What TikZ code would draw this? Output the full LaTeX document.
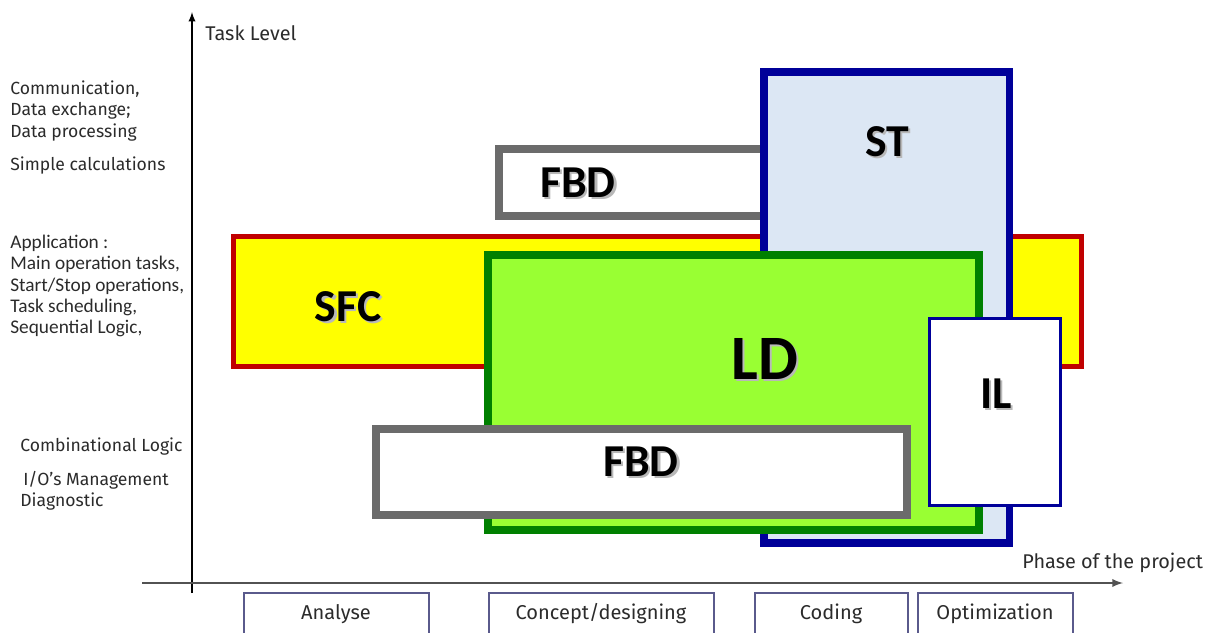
\documentclass[tikz,border=0pt]{standalone}
\usepackage{fontspec}
\usepackage{tikz}
\setmainfont{Fira Sans}
\newfontfamily\labelfont{Carlito}
\definecolor{sfcyellow}{HTML}{FFFF00}
\definecolor{sfcred}{HTML}{C00000}
\definecolor{ldgreen}{HTML}{99FF33}
\definecolor{lddark}{HTML}{008000}
\definecolor{stblue}{HTML}{DCE7F4}
\definecolor{stnavy}{HTML}{000099}
\definecolor{fbdgray}{HTML}{6B6B6B}
\definecolor{phaseline}{HTML}{5A5A8C}
\definecolor{txtgray}{HTML}{2B2B2B}
\newcommand*{\shd}[1]{\makebox[0pt][l]{\kern1.3pt\raisebox{-1.3pt}{\textcolor{black!28}{#1}}}#1}

\begin{document}
\begin{tikzpicture}[x=0.02cm, y=-0.02cm,
    sidetext/.style={anchor=west, align=left, text=txtgray, font=\fontsize{10}{12}\selectfont, inner sep=0pt},
    axistext/.style={sidetext, font=\fontsize{11.3}{13}\selectfont},
    biglabel/.style={font=\labelfont\bfseries\fontsize{26}{28}\selectfont},
    langbox/.style={draw=fbdgray, line width=4.5pt, fill=white},
    phasebox/.style={draw=phaseline, line width=0.75pt},
    phasetext/.style={text=txtgray, font=\fontsize{11.4}{13}\selectfont}]
\useasboundingbox (0,0) rectangle (1213,632);
\clip (0,0) rectangle (1213,632);

%Axes
\coordinate (yfoot) at (192,593);
\coordinate (ytop) at (192,12);
\coordinate (xfoot) at (142,583);
\coordinate (xend) at (1123,583);
\draw [black, line width=0.85pt, -latex] (yfoot) -- (ytop);
\draw [black!68, line width=1.1pt, -latex] (xfoot) -- (xend);
\node[axistext] (tasklevel) at (205,33) {Task Level};
\node[axistext] (phase) at (1022,563) {Phase of the project};

%Task levels on the left
\node[sidetext] (comm) at (10,111) {Communication,\\Data exchange;\\Data processing};
\node[sidetext] (calc) at (10,166) {Simple calculations};
\node[sidetext, font=\labelfont\fontsize{11}{12.1}\selectfont] (appl) at (10,286)
    {Application :\\Main operation tasks,\\Start/Stop operations,\\Task scheduling,\\Sequential Logic,};
\node[sidetext] (combi) at (20,447) {Combinational Logic};
\node[sidetext] (iodiag) at (20,491) {\,I/O's Management\\Diagnostic};

%Languages
\draw [draw=sfcred, fill=sfcyellow, line width=2.85pt] (233.5,236.5) rectangle (1081.5,366.5);
\node[biglabel] (sfc) at (348,308) {\shd{SFC}};

\draw [langbox] (499,149) rectangle (764,216);
\node[biglabel] (fbdtop) at (578,184) {\shd{FBD}};

\draw [draw=stnavy, fill=stblue, line width=4.5pt] (764,72) rectangle (1009.5,543);
\node[biglabel] (st) at (887,143) {\shd{ST}};

\draw [draw=lddark, fill=ldgreen, line width=4.5pt] (488,255) rectangle (979,530);
\node[biglabel, font=\labelfont\bfseries\fontsize{36}{38}\selectfont] (ld) at (765,360) {\shd{LD}};

\draw [langbox] (376,429) rectangle (907,515);
\node[biglabel] (fbdlow) at (641,463) {\shd{FBD}};

\draw [draw=stnavy, fill=white, line width=1.7pt] (929.5,318.5) rectangle (1060.5,505.5);
\node[biglabel] (il) at (996,395) {\shd{IL}};

%Phases
\draw [phasebox] (244,593) rectangle (429,645);
\draw [phasebox] (489,593) rectangle (714,645);
\draw [phasebox] (755,593) rectangle (908,645);
\draw [phasebox] (918,593) rectangle (1073,645);
\node[phasetext] (analyse) at (336,614) {Analyse};
\node[phasetext] (concept) at (601,614) {Concept/designing};
\node[phasetext] (coding) at (831,614) {Coding};
\node[phasetext] (optim) at (995,614) {Optimization};
\end{tikzpicture}
\end{document}
